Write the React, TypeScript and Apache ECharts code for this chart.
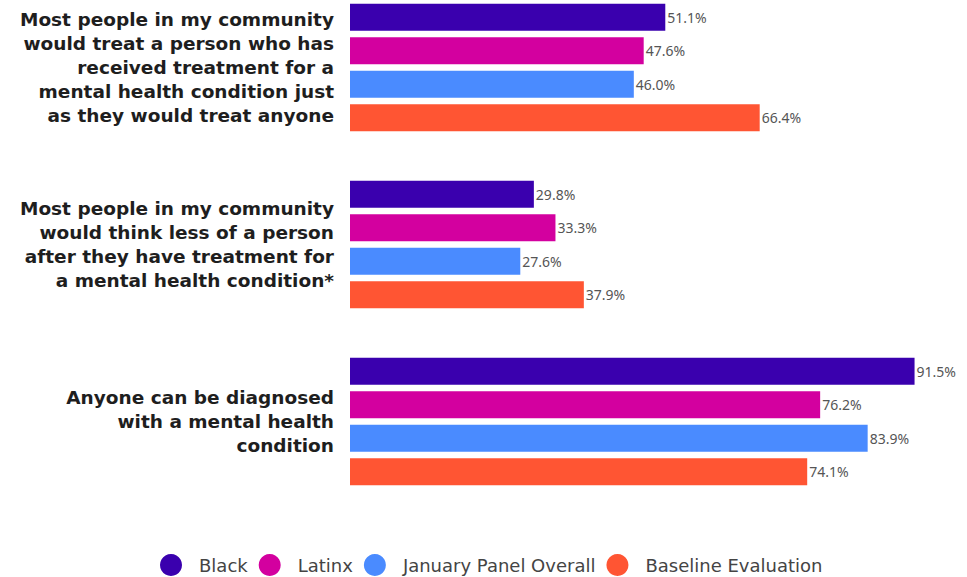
import React, { useEffect, useRef } from "react";
import * as echarts from "echarts";

const categories = [
  "Most people in my community\nwould treat a person who has\nreceived treatment for a\nmental health condition just\nas they would treat anyone",
  "Most people in my community\nwould think less of a person\nafter they have treatment for\na mental health condition*",
  "Anyone can be diagnosed\nwith a mental health\ncondition",
];
const seriesNames = ["Black", "Latinx", "January Panel Overall", "Baseline Evaluation"];
const black = [51.1, 29.8, 91.5];
const latinx = [47.6, 33.3, 76.2];
const januaryPanel = [46.0, 27.6, 83.9];
const baseline = [66.4, 37.9, 74.1];
const seriesData = [black, latinx, januaryPanel, baseline];
const colors = ["#3a00ae", "#d3009f", "#4a8bff", "#ff5533"];

export default function App() {
  const ref = useRef<HTMLDivElement>(null);
  useEffect(() => {
    if (!ref.current) return;
    const chart = echarts.init(ref.current, null, { renderer: "svg" });
    chart.setOption({
      animation: false,
      backgroundColor: "#ffffff",
      grid: { left: 350, right: 0, top: 0, bottom: 67, containLabel: false },
      xAxis: {
        type: "value",
        min: 0,
        max: 100,
        show: false,
      },
      yAxis: {
        type: "category",
        inverse: true,
        data: categories,
        axisLine: { show: false },
        axisTick: { show: false },
        axisLabel: {
          margin: 16,
          align: "right",
          fontFamily: "DejaVu Sans",
          fontWeight: "bold",
          fontSize: 18.5,
          lineHeight: 24,
          color: "#1e1e1e",
        },
      },
      legend: {
        top: 575,
        left: 160,
        padding: 0,
        icon: "circle",
        itemWidth: 22,
        itemHeight: 22,
        itemGap: 11,
        textStyle: {
          fontFamily: "DejaVu Sans",
          fontSize: 18,
          color: "#444",
          padding: [0, 0, 0, 12],
        },
        data: seriesNames,
      },
      series: seriesNames.map((name, i) => ({
        name,
        type: "bar",
        data: seriesData[i],
        barWidth: 27,
        barGap: "24%",
        itemStyle: { color: colors[i] },
        label: {
          show: true,
          position: "right",
          distance: 2,
          formatter: (p: any) => p.value.toFixed(1) + "%",
          fontFamily: "Noto Sans",
          fontSize: 14,
          color: "#555",
        },
      })),
    });
    return () => chart.dispose();
  }, []);
  return (
    <div style={{ position: "absolute", left: 0, top: 0, width: 967, height: 577, overflow: "hidden", background: "#fff" }}>
      <div ref={ref} style={{ width: 967, height: 598, position: "absolute", left: 0, top: -21 }} />
    </div>
  );
}
